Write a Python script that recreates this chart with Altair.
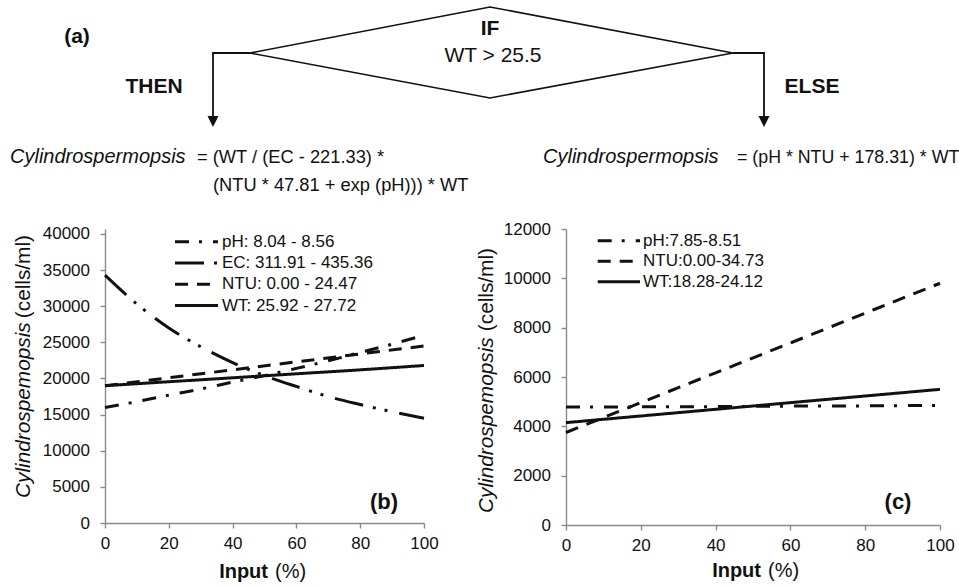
import altair as alt
import pandas as pd

FONT = "Liberation Sans"
INK = "#111111"
AXIS_GREY = "#8a8a8a"

# ---------------------------------------------------------------
# (b) response of the WT > 25.5 branch to each input (0-100 % of range)
input_fine = [0, 10, 20, 30, 40, 50, 60, 70, 80, 90, 100]
input_coarse = [0, 20, 40, 60, 80, 100]
b_ph = [16000, 16800, 17700, 18550, 19500, 20400, 21400, 22450, 23600, 24750, 26000]
b_ec = [34300, 30300, 27000, 24400, 22200, 20400, 18900, 17500, 16400, 15400, 14500]
b_ntu = [19000, 20100, 21200, 22300, 23400, 24500]
b_wt = [19000, 19550, 20100, 20650, 21200, 21800]
b_series = ["pH", "EC", "NTU", "WT"]
b_labels = ["pH: 8.04 - 8.56", "EC: 311.91 - 435.36",
            "NTU: 0.00 - 24.47", "WT: 25.92 - 27.72"]
b_ticks = [0, 5000, 10000, 15000, 20000, 25000, 30000, 35000, 40000]

# (c) response of the ELSE branch
c_ph = [4780, 4790, 4800, 4820, 4830, 4850]
c_ntu = [3750, 4960, 6170, 7380, 8590, 9800]
c_wt = [4150, 4420, 4690, 4960, 5230, 5500]
c_series = ["pH", "NTU", "WT"]
c_labels = ["pH:7.85-8.51", "NTU:0.00-34.73", "WT:18.28-24.12"]
c_ticks = [0, 2000, 4000, 6000, 8000, 10000, 12000]

x_ticks = [0, 20, 40, 60, 80, 100]

dash_styles = {
    "pH": [14, 10, 3, 11],
    "EC": [29, 10, 3, 9, 3, 12],
    "NTU": [13, 9],
    "WT": [1, 0],
}

# ---------------------------------------------------------------
# (a) decision-tree diagram, drawn in its own pixel-like frame
DIAG_W, DIAG_H = 959, 225
diamond = pd.DataFrame({
    "i": [0, 1, 2, 3, 4],
    "x": [250, 490, 733, 490, 250],
    "y": [53, 7, 53, 98, 53],
})
connectors = pd.DataFrame({
    "path": ["then"] * 3 + ["else"] * 3,
    "i": [0, 1, 2, 0, 1, 2],
    "x": [250, 213, 213, 733, 764, 764],
    "y": [53, 53, 121, 53, 53, 121],
})
arrow_heads = pd.DataFrame({"x": [213, 764], "y": [121.5, 121.5]})

diag_bold = pd.DataFrame({
    "x": [77, 490, 154, 812],
    "y": [37, 28.5, 87, 87],
    "t": ["(a)", "IF", "THEN", "ELSE"],
})
diag_plain = pd.DataFrame({"x": [493], "y": [56], "t": ["WT > 25.5"]})
eq_italic = pd.DataFrame({
    "x": [10, 543], "y": [163, 163],
    "t": ["Cylindrospermopsis", "Cylindrospermopsis"],
})
eq_then = pd.DataFrame({
    "x": [197, 213], "y": [163, 190.5],
    "t": ["= (WT / (EC - 221.33) *", "(NTU * 47.81 + exp (pH))) * WT"],
})
eq_else = pd.DataFrame({"x": [737], "y": [163], "t": ["= (pH * NTU + 178.31) * WT"]})

dx = alt.X("x:Q", scale=alt.Scale(domain=[0, DIAG_W], nice=False, zero=False), axis=None)
dy = alt.Y("y:Q", scale=alt.Scale(domain=[0, DIAG_H], nice=False, zero=False, reverse=True), axis=None)

diagram = alt.layer(
    alt.Chart(diamond).mark_line(color=INK, strokeWidth=1.6).encode(x=dx, y=dy, order="i:Q"),
    alt.Chart(connectors).mark_line(color=INK, strokeWidth=1.8).encode(
        x=dx, y=dy, order="i:Q", detail="path:N"),
    alt.Chart(arrow_heads).mark_point(
        shape="M-1,-1L1,-1L0,1Z", size=121, filled=True, color=INK, opacity=1
    ).encode(x=dx, y=dy),
    alt.Chart(diag_bold).mark_text(
        fontSize=21, fontWeight="bold", color=INK, align="center", baseline="middle"
    ).encode(x=dx, y=dy, text="t:N"),
    alt.Chart(diag_plain).mark_text(
        fontSize=21, color=INK, align="center", baseline="middle"
    ).encode(x=dx, y=dy, text="t:N"),
    alt.Chart(eq_italic).mark_text(
        fontSize=20, fontStyle="italic", color=INK, align="left", baseline="alphabetic"
    ).encode(x=dx, y=dy, text="t:N"),
    alt.Chart(eq_then).mark_text(
        fontSize=18.3, color=INK, align="left", baseline="alphabetic"
    ).encode(x=dx, y=dy, text="t:N"),
    # the ELSE formula reaches the right edge of the frame
    alt.Chart(eq_else).mark_text(
        fontSize=17.8, color=INK, align="left", baseline="alphabetic", clip=True
    ).encode(x=dx, y=dy, text="t:N"),
).properties(width=DIAG_W, height=DIAG_H)


# ---------------------------------------------------------------
def one_text(text, x, y, **style):
    return alt.Chart(pd.DataFrame({"t": [text]})).mark_text(
        color=INK, **style
    ).encode(x=alt.value(x), y=alt.value(y), text="t:N")


def response_panel(curves, names, labels, ymax, yticks, width, height,
                   legend, tag, tag_xy, ytitle_x, ytitle_y, xtitle_x, xtitle_y):
    rows = []
    for name, (inputs, vals) in zip(names, curves):
        for xv, yv in zip(inputs, vals):
            rows.append({"input": xv, "cells": yv, "series": name})
    df = pd.DataFrame(rows)

    dash = alt.StrokeDash(
        "series:N",
        scale=alt.Scale(domain=names, range=[dash_styles[n] for n in names]),
        legend=None,
    )

    lines = alt.Chart(df).mark_line(
        color=INK, strokeWidth=3, strokeCap="butt", interpolate="monotone"
    ).encode(
        x=alt.X("input:Q", scale=alt.Scale(domain=[0, 100], nice=False),
                axis=alt.Axis(values=x_ticks, title=None, labelPadding=7, labelFlush=False)),
        y=alt.Y("cells:Q", scale=alt.Scale(domain=[0, ymax], nice=False),
                axis=alt.Axis(values=yticks, format="d", title=None, labelPadding=10.5)),
        strokeDash=dash,
    )

    layers = [lines]
    x0, x1, tx, y0, step = legend
    for i, (name, lab) in enumerate(zip(names, labels)):
        row = pd.DataFrame({"series": [name], "label": [lab]})
        yy = y0 + i * step
        layers.append(
            alt.Chart(row).mark_rule(color=INK, strokeWidth=3, strokeCap="butt").encode(
                x=alt.value(x0), x2=alt.value(x1), y=alt.value(yy), strokeDash=dash)
        )
        layers.append(
            alt.Chart(row).mark_text(color=INK, fontSize=17, align="left", baseline="middle").encode(
                x=alt.value(tx), y=alt.value(yy), text="label:N")
        )

    # panel tag
    layers.append(one_text(tag, tag_xy[0], tag_xy[1], fontSize=22, fontWeight="bold",
                           align="center", baseline="middle"))
    # y title: italic genus name + plain unit
    layers.append(one_text("Cylindrospemopsis", ytitle_x, ytitle_y[0], fontSize=20.8,
                           fontStyle="italic", angle=270, align="left", baseline="middle"))
    layers.append(one_text("(cells/ml)", ytitle_x, ytitle_y[1], fontSize=20.8,
                           angle=270, align="right", baseline="middle"))
    # x title: bold word + plain unit
    layers.append(one_text("Input", xtitle_x[0], xtitle_y, fontSize=20, fontWeight="bold",
                           align="right", baseline="alphabetic"))
    layers.append(one_text("(%)", xtitle_x[1], xtitle_y, fontSize=20,
                           align="left", baseline="alphabetic"))

    return alt.layer(*layers).properties(width=width, height=height)


panel_b = response_panel(
    [(input_fine, b_ph), (input_fine, b_ec), (input_coarse, b_ntu), (input_coarse, b_wt)],
    b_series, b_labels,
    ymax=40692, yticks=b_ticks, width=319, height=294,
    legend=(70, 113, 117, 12.7, 21.3), tag="(b)", tag_xy=(279, 273),
    ytitle_x=-81, ytitle_y=(269, 6), xtitle_x=(163, 170), xtitle_y=349,
)

panel_c = response_panel(
    [(input_coarse, c_ph), (input_coarse, c_ntu), (input_coarse, c_wt)],
    c_series, c_labels,
    ymax=12000, yticks=c_ticks, width=374, height=296,
    legend=(31.7, 74, 77, 11.7, 20.5), tag="(c)", tag_xy=(332, 273),
    ytitle_x=-79, ytitle_y=(284, 19), xtitle_x=(195, 202), xtitle_y=348,
)


def spacer(w):
    return alt.Chart(pd.DataFrame({"v": [0]})).mark_point(opacity=0).properties(width=w, height=10)


bottom = alt.hconcat(spacer(105), panel_b, spacer(142), panel_c, spacing=0, bounds="flush")

chart = alt.vconcat(diagram, bottom, spacing=4, bounds="flush").properties(
    padding=0, background="white"
).configure(font=FONT).configure_view(stroke=None).configure_axis(
    grid=False,
    domainColor=AXIS_GREY,
    domainWidth=1.4,
    tickColor=AXIS_GREY,
    tickWidth=1.4,
    tickSize=5,
    labelFont=FONT,
    labelFontSize=17,
    labelColor=INK,
    labelOverlap=False,
)

chart.save("out.html", embed_options={"renderer": "svg", "actions": False})
